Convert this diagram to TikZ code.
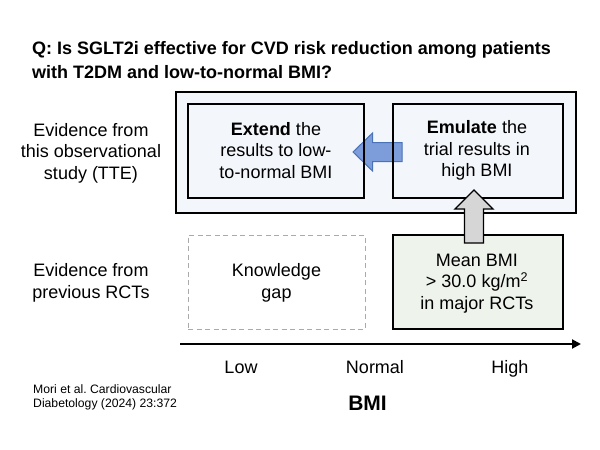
\documentclass[tikz,border=0pt]{standalone}
\usepackage{fontspec}
\setmainfont{Liberation Sans}
\usetikzlibrary{arrows.meta}
\frenchspacing
\definecolor{outerfill}{HTML}{F3F6FA}
\definecolor{greenfill}{HTML}{EEF3EC}
\definecolor{bluefill}{HTML}{7C9DDA}
\definecolor{blueline}{HTML}{4A72B8}
\definecolor{grayfill}{HTML}{D6D6D6}
\definecolor{dashgray}{HTML}{AAAAAA}
\tikzset{
  txt/.style={align=center, inner sep=0pt, font=\fontsize{18}{21.8}\selectfont},
  lbl/.style={align=center, inner sep=0pt, font=\fontsize{18}{21.5}\selectfont},
  boxline/.style={draw=black, line width=1.4pt},
}
\begin{document}
\begin{tikzpicture}[x=1pt,y=-1pt]
\useasboundingbox (0,0) rectangle (600,450);
% title
\node[anchor=west, align=left, inner sep=0pt, font=\fontsize{18}{24}\selectfont\bfseries] (title) at (32,60)
  {Q: Is SGLT2i effective for CVD risk reduction among patients\\with T2DM and low-to-normal BMI?};
% left labels
\node[lbl] (ev1) at (91,153) {Evidence from\\this observational\\study (TTE)};
\node[lbl] (ev2) at (91,283) {Evidence from\\previous RCTs};
% outer box
\node[boxline, fill=outerfill, minimum width=400pt, minimum height=121pt, inner sep=0pt] (outer) at (376,152.5) {};
% blue arrow (behind inner boxes)
\coordinate (btip) at (353,152);
\draw[fill=bluefill, draw=blueline, line width=1pt, line join=miter]
  (btip) -- (372.5,133) -- (372.5,142.5) -- (402,142.5) -- (402,161.5) -- (372.5,161.5) -- (372.5,171) -- cycle;
% inner boxes
\node[boxline, minimum width=176pt, minimum height=94pt, inner sep=0pt] (ext) at (276,151) {};
\node[txt] (extt) at (276,150.5) {\textbf{Extend} the\\results to low-\\to-normal BMI};
\node[boxline, minimum width=170pt, minimum height=94pt, inner sep=0pt] (emu) at (478,151) {};
\node[txt] (emut) at (477,150.5) {\textbf{Emulate} the\\trial results in\\high BMI};
% knowledge gap
\node[draw=dashgray, line width=1pt, dash pattern=on 5pt off 3.5pt, minimum width=177pt, minimum height=94pt, inner sep=0pt] (gap) at (276.5,282) {};
\node[txt] (gapt) at (276.5,282.5) {Knowledge\\gap};
% green box
\node[boxline, fill=greenfill, minimum width=170pt, minimum height=94pt, inner sep=0pt] (rct) at (478,282) {};
\node[txt] (rctt) at (477,283.5) {Mean BMI\\> 30.0 kg/m\textsuperscript{2}\\in major RCTs};
% gray arrow
\coordinate (gtip) at (474,190);
\draw[fill=grayfill, draw=black, line width=1.4pt, line join=miter]
  (gtip) -- (493,209) -- (483.5,209) -- (483.5,243) -- (464.5,243) -- (464.5,209) -- (455,209) -- cycle;
% axis
\coordinate (ax0) at (180,344);
\coordinate (ax1) at (581,344);
\draw[line width=2pt, -{Triangle[length=9pt,width=9pt]}] (ax0) -- (ax1);
\node[lbl, anchor=base] (low) at (241,373.5) {Low};
\node[lbl, anchor=base] (norm) at (375,373.5) {Normal};
\node[lbl, anchor=base] (high) at (510,373.5) {High};
\node[inner sep=0pt, anchor=base, font=\fontsize{21}{24}\selectfont\bfseries] (bmi) at (367.5,410.5) {BMI};
% citation
\node[anchor=west, align=left, inner sep=0pt, font=\fontsize{12.2}{14}\selectfont] (cite) at (33,397.5)
  {Mori et al. Cardiovascular\\Diabetology (2024) 23:372};
\end{tikzpicture}
\end{document}
